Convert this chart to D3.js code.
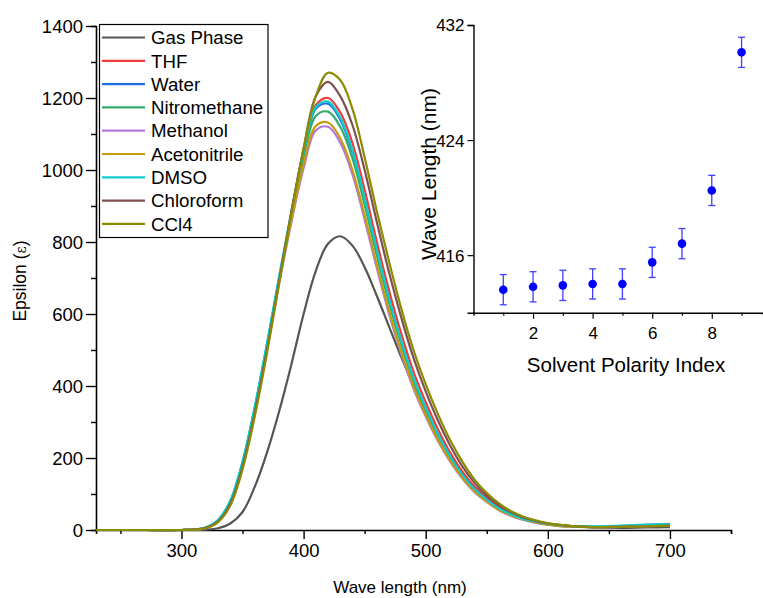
<!DOCTYPE html>
<html>
<head>
<meta charset="utf-8">
<script src="https://cdnjs.cloudflare.com/ajax/libs/d3/7.8.5/d3.min.js"></script>
<style>
  html, body { margin: 0; padding: 0; background: #fff; }
  svg { display: block; font-family: "Liberation Sans", Arial, sans-serif; }
</style>
</head>
<body>
<div id="chart"></div>
<script>
// --- main spectrum data ---
const wavelengths = [230, 270, 300, 310, 320, 330, 340, 350, 360, 370, 380, 390, 400, 410, 420, 430, 440, 450, 460, 470,
  480, 490, 500, 510, 520, 530, 540, 550, 560, 570, 580, 590, 600, 610, 620, 640, 660, 680, 700];

const gasPhase = [0, 0, 0, 0, 1, 5, 18, 50, 120, 215, 330, 460, 600, 720, 795, 816, 790, 730, 650, 565,
  480, 400, 325, 260, 205, 158, 120, 90, 66, 48, 35, 25, 18, 13, 10, 7, 6, 7, 8];
const thf = [0, 0, 0, 1, 6, 25, 75, 180, 330, 505, 695, 880, 1050, 1180, 1200, 1160, 1075, 945, 800, 665,
  545, 440, 355, 280, 215, 162, 120, 88, 63, 45, 32, 23, 17, 13, 10, 8, 9, 11, 13];
const water = [0, 0, 0, 1, 7, 27, 80, 188, 340, 515, 700, 880, 1045, 1170, 1184, 1140, 1050, 918, 775, 640,
  522, 420, 338, 265, 204, 153, 113, 83, 59, 42, 30, 22, 16, 12, 10, 9, 11, 14, 16];
const nitromethane = [0, 0, 0, 1, 6, 26, 78, 185, 335, 510, 695, 872, 1035, 1150, 1162, 1120, 1032, 903, 762, 630,
  515, 414, 333, 261, 200, 151, 111, 82, 58, 41, 30, 22, 16, 12, 10, 8, 10, 12, 14];
const methanol = [0, 0, 0, 1, 6, 26, 77, 183, 333, 505, 685, 855, 1005, 1110, 1120, 1076, 988, 862, 727, 600,
  489, 393, 315, 247, 190, 143, 105, 78, 55, 39, 28, 20, 15, 11, 9, 8, 9, 11, 12];
const acetonitrile = [0, 0, 0, 1, 6, 26, 78, 185, 335, 508, 690, 862, 1015, 1122, 1132, 1088, 1000, 874, 737, 608,
  496, 399, 320, 251, 193, 145, 107, 79, 56, 40, 29, 21, 15, 11, 9, 8, 9, 11, 13];
const dmso = [0, 0, 0, 1, 7, 28, 82, 190, 342, 518, 705, 885, 1050, 1175, 1190, 1145, 1055, 922, 778, 643,
  525, 423, 340, 267, 205, 154, 114, 84, 60, 43, 31, 23, 17, 13, 11, 10, 12, 15, 17];
const chloroform = [0, 0, 0, 1, 6, 24, 73, 176, 325, 500, 692, 885, 1060, 1205, 1245, 1205, 1125, 1000, 855, 715,
  590, 478, 385, 304, 235, 177, 131, 96, 69, 49, 35, 25, 18, 14, 11, 8, 9, 10, 12];
const ccl4 = [0, 0, 0, 1, 5, 22, 68, 168, 315, 490, 685, 880, 1060, 1205, 1270, 1250, 1170, 1035, 885, 745,
  615, 500, 405, 322, 250, 190, 140, 103, 74, 52, 37, 27, 19, 14, 11, 8, 9, 10, 12];

const seriesNames = ["Gas Phase", "THF", "Water", "Nitromethane", "Methanol", "Acetonitrile", "DMSO", "Chloroform", "CCl4"];
const seriesValues = [gasPhase, thf, water, nitromethane, methanol, acetonitrile, dmso, chloroform, ccl4];
const seriesColors = ["#555555", "#f03c3c", "#1b6fdf", "#35ab6a", "#b27ae0", "#c99a0e", "#10cccc", "#7d5050", "#8c8c00"];

const epsTicks = [0, 200, 400, 600, 800, 1000, 1200, 1400];
const waveTicks = [300, 400, 500, 600, 700];

// --- inset data ---
const polarityIndex = [1, 2, 3, 4, 5, 6, 7, 8, 9];
const peakWave = [413.6, 413.8, 413.9, 414.0, 414.0, 415.5, 416.8, 420.5, 430.1];
const peakErr = [1.05, 1.05, 1.05, 1.05, 1.05, 1.05, 1.05, 1.05, 1.05];
const insetYTicks = [416, 424, 432];
const insetXTicks = [2, 4, 6, 8];

const W = 763, H = 598;
const svg = d3.select("#chart").append("svg").attr("width", W).attr("height", H);

// ===== main plot =====
const x = d3.scaleLinear().domain([230, 750]).range([96, 731]);
const y = d3.scaleLinear().domain([0, 1400]).range([530, 26]);

const xAxis = svg.append("g")
  .attr("transform", "translate(0,530)")
  .call(d3.axisBottom(x).tickValues(d3.range(250, 751, 50)).tickSize(4).tickFormat(""));
xAxis.call(g => g.selectAll(".tick line").attr("y2", d => d % 100 === 0 ? 9 : 4));
xAxis.selectAll(".tick")
  .filter(d => waveTicks.includes(d))
  .append("text")
  .attr("y", 27).attr("fill", "#000")
  .text(d => d);

const yAxis = svg.append("g")
  .attr("transform", "translate(96,0)")
  .call(d3.axisLeft(y).tickValues(d3.range(0, 1401, 100)).tickSize(5).tickFormat(""));
yAxis.call(g => g.selectAll(".tick line").attr("x2", d => d % 200 === 0 ? -10 : -5));
yAxis.selectAll(".tick")
  .filter(d => epsTicks.includes(d))
  .append("text")
  .attr("x", -13).attr("dy", "0.35em").attr("fill", "#000")
  .text(d => d);

svg.selectAll(".domain").attr("stroke", "#000").attr("stroke-width", 1.6);
svg.selectAll(".tick line").attr("stroke", "#000").attr("stroke-width", 1.4);
svg.selectAll(".tick text").attr("font-size", 18.5).attr("font-family", "Liberation Sans, Arial, sans-serif");
yAxis.selectAll(".tick text").attr("text-anchor", "end");

svg.append("text")
  .attr("x", 400).attr("y", 593)
  .attr("text-anchor", "middle")
  .attr("font-size", 17)
  .text("Wave length (nm)");

const epsLabel = svg.append("text")
  .attr("transform", "translate(26,281) rotate(-90)")
  .attr("text-anchor", "middle")
  .attr("font-size", 17.5);
epsLabel.append("tspan").text("Epsilon (");
epsLabel.append("tspan").attr("font-family", "DejaVu Serif, serif").attr("font-size", 14).text("ε");
epsLabel.append("tspan").text(")");

const line = d3.line()
  .x((d, i) => x(wavelengths[i]))
  .y(d => y(d))
  .curve(d3.curveCatmullRom.alpha(0.5));

svg.append("g")
  .selectAll("path")
  .data(seriesValues)
  .join("path")
  .attr("d", line)
  .attr("fill", "none")
  .attr("stroke", (d, i) => seriesColors[i])
  .attr("stroke-width", 2.2);

// legend
const legend = svg.append("g");
legend.append("rect")
  .attr("x", 99.5).attr("y", 24.5)
  .attr("width", 168.5).attr("height", 213)
  .attr("fill", "#fff").attr("stroke", "#000").attr("stroke-width", 1.2);
const rows = legend.selectAll("g.row")
  .data(seriesNames)
  .join("g")
  .attr("class", "row")
  .attr("transform", (d, i) => `translate(0,${37.5 + i * 23.3})`);
rows.append("line")
  .attr("x1", 102).attr("x2", 145)
  .attr("stroke", (d, i) => seriesColors[i])
  .attr("stroke-width", 2.2);
rows.append("text")
  .attr("x", 151).attr("dy", "0.36em")
  .attr("font-size", 18.7)
  .text(d => d);

// ===== inset =====
const ix = d3.scaleLinear().domain([0, 9.72]).range([473.5, 763]);
const iy = d3.scaleLinear().domain([412, 432]).range([312.7, 25]);

const ixAxis = svg.append("g")
  .attr("transform", "translate(0,312.7)")
  .call(d3.axisBottom(ix).tickValues(polarityIndex).tickSize(3).tickFormat(""));
ixAxis.call(g => g.selectAll(".tick line").attr("y2", d => d % 2 === 0 ? 6 : 3));
ixAxis.selectAll(".tick")
  .filter(d => insetXTicks.includes(d))
  .append("text")
  .attr("y", 26).attr("fill", "#000")
  .text(d => d);

const iyAxis = svg.append("g")
  .attr("transform", "translate(473.5,0)")
  .call(d3.axisLeft(iy).tickValues(insetYTicks).tickSize(6).tickFormat(""));
iyAxis.selectAll(".tick")
  .append("text")
  .attr("x", -9).attr("dy", "0.35em").attr("fill", "#000")
  .attr("text-anchor", "end")
  .text(d => d);

[ixAxis, iyAxis].forEach(g => {
  g.select(".domain").attr("stroke", "#000").attr("stroke-width", 1.4);
  g.selectAll(".tick line").attr("stroke", "#000").attr("stroke-width", 1.2);
  g.selectAll(".tick text").attr("font-size", 17).attr("font-family", "Liberation Sans, Arial, sans-serif");
});

svg.append("text")
  .attr("x", 626).attr("y", 372)
  .attr("text-anchor", "middle")
  .attr("font-size", 20.5)
  .text("Solvent Polarity Index");

svg.append("text")
  .attr("transform", "translate(436,174) rotate(-90)")
  .attr("text-anchor", "middle")
  .attr("font-size", 21)
  .text("Wave Length (nm)");

const pts = svg.append("g");
pts.selectAll("line.err")
  .data(polarityIndex)
  .join("line")
  .attr("class", "err")
  .attr("x1", d => ix(d)).attr("x2", d => ix(d))
  .attr("y1", (d, i) => iy(peakWave[i] - peakErr[i]))
  .attr("y2", (d, i) => iy(peakWave[i] + peakErr[i]))
  .attr("stroke", "#4040ff").attr("stroke-width", 1.3);
[-1, 1].forEach(sgn => {
  pts.selectAll(null)
    .data(polarityIndex)
    .join("line")
    .attr("x1", d => ix(d) - 3.5).attr("x2", d => ix(d) + 3.5)
    .attr("y1", (d, i) => iy(peakWave[i] + sgn * peakErr[i]))
    .attr("y2", (d, i) => iy(peakWave[i] + sgn * peakErr[i]))
    .attr("stroke", "#4040ff").attr("stroke-width", 1.3);
});
pts.selectAll("circle")
  .data(polarityIndex)
  .join("circle")
  .attr("cx", d => ix(d))
  .attr("cy", (d, i) => iy(peakWave[i]))
  .attr("r", 4.3)
  .attr("fill", "#0000ff");
</script>
</body>
</html>
